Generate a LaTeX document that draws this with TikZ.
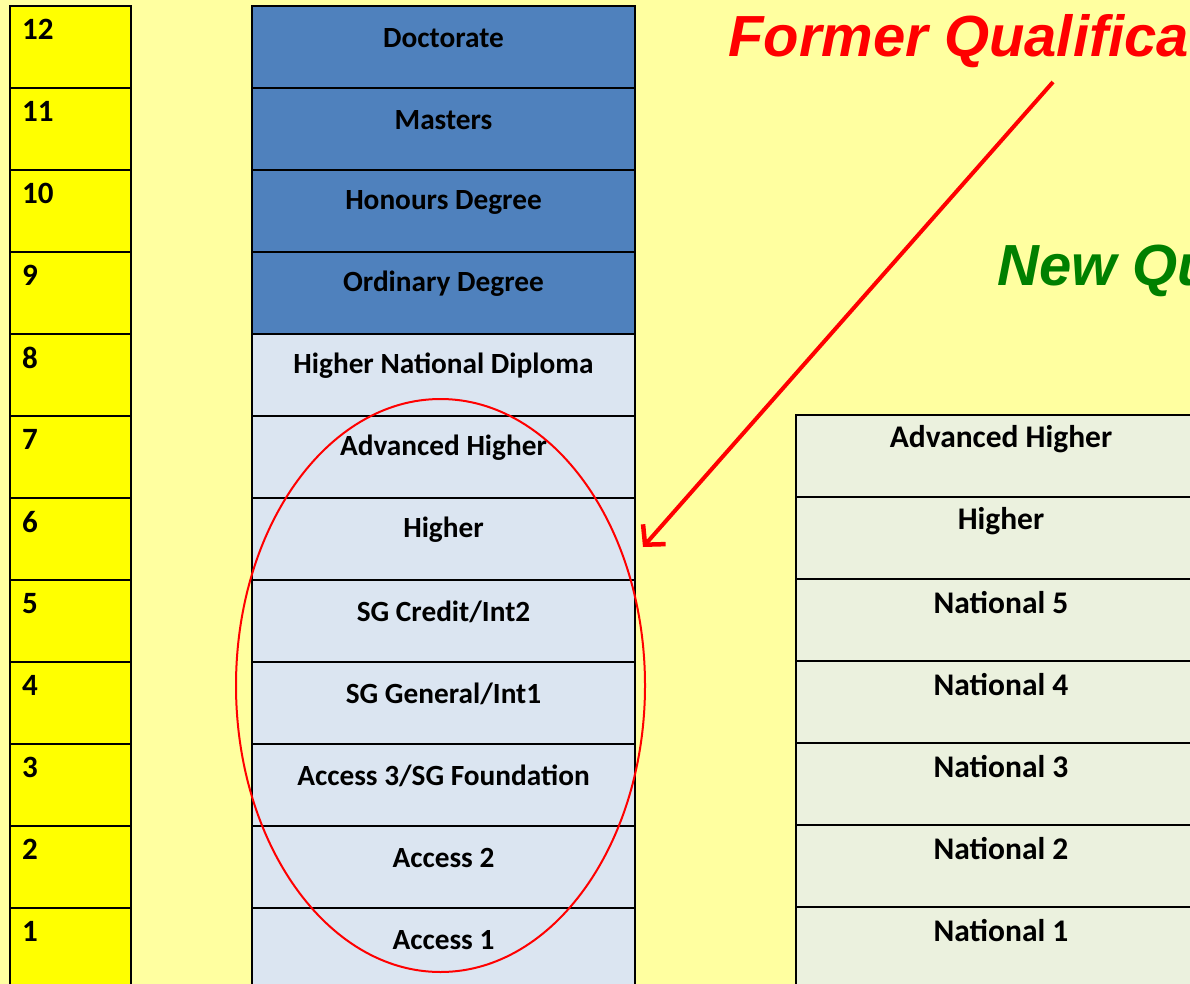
\documentclass[tikz,border=0pt]{standalone}
\usepackage{fontspec}
\setmainfont{Carlito}
\newfontfamily\titlefont{Liberation Sans}
\usetikzlibrary{arrows.meta,shapes.geometric}
\definecolor{bgyellow}{RGB}{255,255,160}
\definecolor{numyellow}{RGB}{255,255,0}
\definecolor{darkblue}{RGB}{79,129,189}
\definecolor{lightblue}{RGB}{219,229,241}
\definecolor{palegreen}{RGB}{235,241,222}
\definecolor{titlegreen}{RGB}{0,128,0}
\tikzset{
  cellbox/.style={draw=black, line width=2pt, rectangle, anchor=north west, inner sep=0pt, minimum height=82pt},
  numcell/.style={cellbox, fill=numyellow, minimum width=121pt},
  oldcell/.style={cellbox, minimum width=383pt},
  newcell/.style={cellbox, fill=palegreen, minimum width=410pt},
  numtext/.style={anchor=north west, inner sep=0pt, font=\fontsize{31}{36}\selectfont\bfseries},
  oldtext/.style={anchor=center, inner sep=0pt, font=\fontsize{29.3}{34}\selectfont\bfseries},
  newtext/.style={anchor=center, inner sep=0pt, font=\fontsize{31.5}{36}\selectfont\bfseries},
  titletext/.style={anchor=base west, inner sep=0pt, font=\titlefont\fontsize{58}{66}\selectfont\bfseries\itshape}
}
\begin{document}
\begin{tikzpicture}[x=1pt,y=-1pt]
\useasboundingbox (0,0) rectangle (1190,984);
\clip (0,0) rectangle (1190,984);
\fill[bgyellow] (0,0) rectangle (1190,984);
% left number column
\foreach \n in {1,...,12}{
  \pgfmathsetmacro{\ytop}{5+(12-\n)*82}
  \node[numcell] (L\n) at (9,\ytop) {};
  \node[numtext] (LT\n) at ([xshift=13pt,yshift=-14pt]L\n.north west) {\n};
}
% middle column (former qualifications)
\foreach \n/\t/\c in {12/Doctorate/darkblue,11/Masters/darkblue,10/Honours Degree/darkblue,9/Ordinary Degree/darkblue,8/Higher National Diploma/lightblue,7/Advanced Higher/lightblue,6/Higher/lightblue,5/SG Credit\slash Int2/lightblue,4/SG General\slash Int1/lightblue,3/Access 3\slash SG Foundation/lightblue,2/Access 2/lightblue,1/Access 1/lightblue}{
  \pgfmathsetmacro{\ytop}{5+(12-\n)*82}
  \node[oldcell, fill=\c] (M\n) at (251,\ytop) {};
  \node[oldtext, yshift=-33pt] (MT\n) at (M\n.north) {\t};
}
% right column (new qualifications)
\foreach \n/\t in {7/Advanced Higher,6/Higher,5/National 5,4/National 4,3/National 3,2/National 2,1/National 1}{
  \pgfmathsetmacro{\ytop}{5+(12-\n)*82-1}
  \node[newcell] (R\n) at (795,\ytop) {};
  \node[newtext, yshift=-25pt] (RT\n) at (R\n.north) {\t};
}
% titles
\node[titletext, text=red] (former) at (728,57) {Former Qualifications};
\node[titletext, text=titlegreen] (new) at (997,285) {New Qualifications};
% ellipse
\node[draw=red, line width=2pt, ellipse, minimum width=409pt, minimum height=573pt, inner sep=0pt] (oval) at (440.5,685.5) {};
% arrow
\coordinate (arrstart) at (1053,82);
\coordinate (arrend) at (643,547);
\draw[red, line width=4pt, -{Straight Barb[length=14pt,width=30pt,line width=4.5pt]}] (arrstart) -- (arrend);
\end{tikzpicture}
\end{document}
